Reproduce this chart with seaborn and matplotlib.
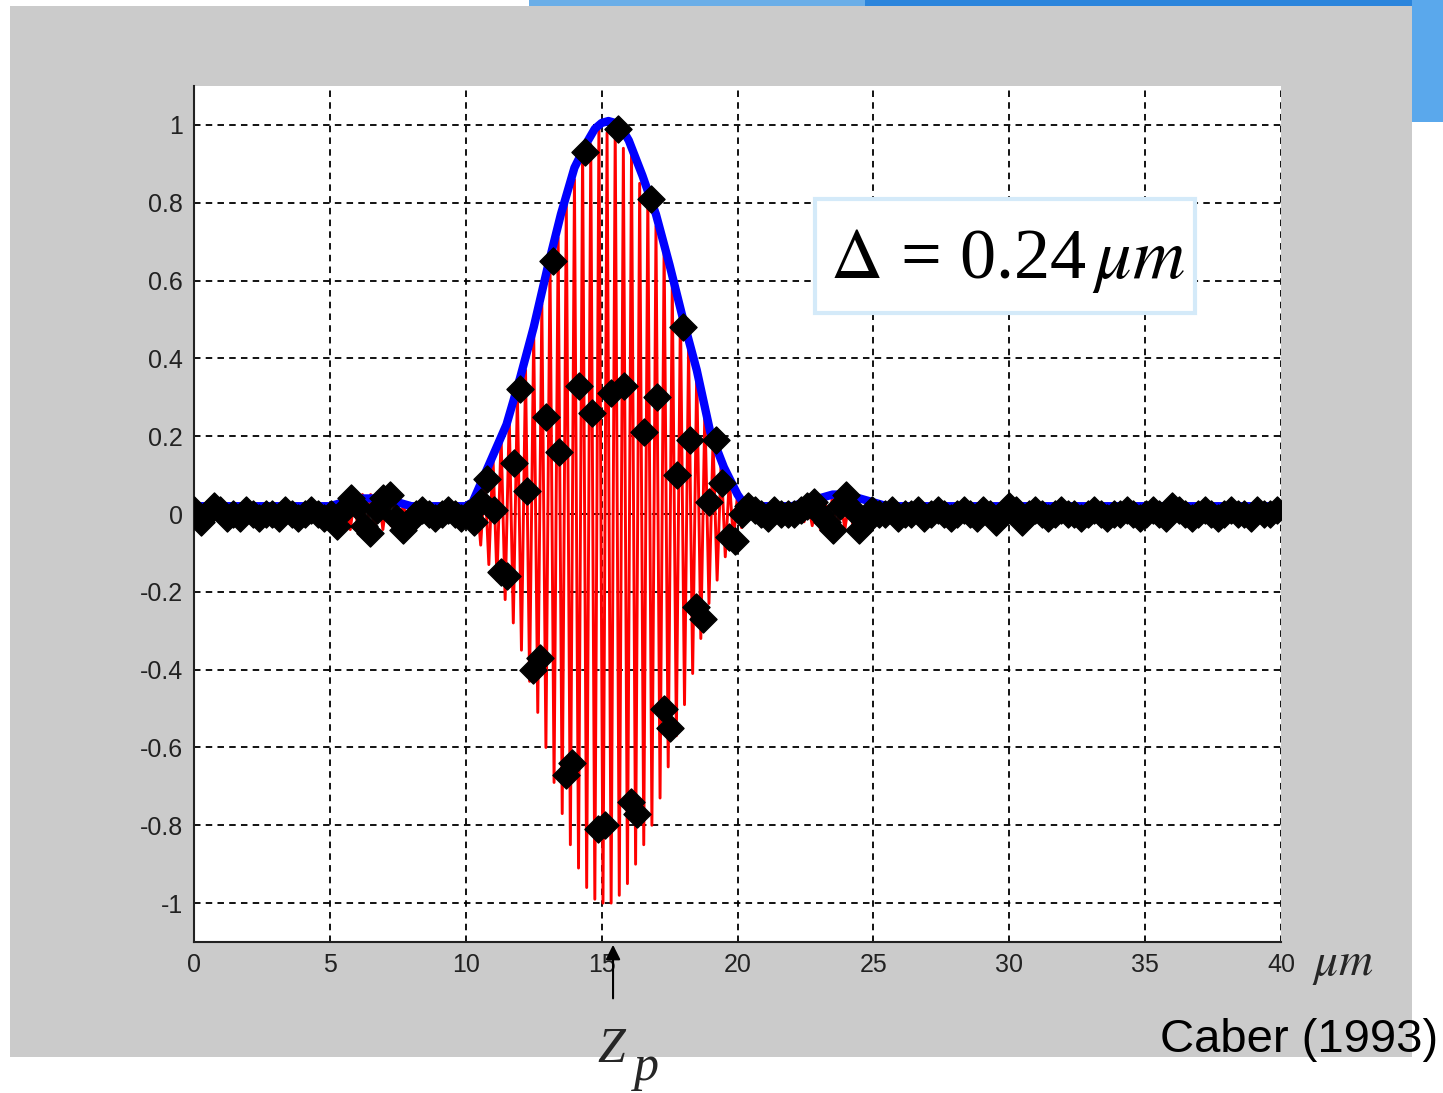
import numpy as np
import pandas as pd
import matplotlib
matplotlib.use("Agg")
import matplotlib.pyplot as plt
from matplotlib.patches import Rectangle
import seaborn as sns

# ---- data ----
delta = 0.24      # sampling step (um)
half_period = 0.15  # fringe half period (um)

# sampled intensity (black markers), one value every delta from x = 0
marker_y = [
    0.01, -0.02, 0.0, 0.02, 0.01, -0.01, 0.0, -0.01, 0.01, 0.0, -0.01, 0.0, 0.0,
    -0.01, 0.01, 0.0, -0.01, 0.0, 0.01, 0.0, -0.01,
    0.0, -0.03, 0.01, 0.04, 0.02, -0.03, -0.05, 0.01, 0.04, 0.05, -0.01, -0.04,
    -0.02, 0.0,
    0.01, 0.0, -0.01, 0.0, 0.01, 0.0, -0.01,
    0.0, -0.02, 0.03, 0.09, 0.01,
    -0.15, -0.16, 0.13, 0.32, 0.06,
    -0.40, -0.37, 0.25, 0.65, 0.16,
    -0.67, -0.64, 0.33, 0.93, 0.26,
    -0.81, -0.80, 0.31, 0.99, 0.33,
    -0.74, -0.77, 0.21, 0.81, 0.30,
    -0.50, -0.55, 0.10, 0.48, 0.19,
    -0.24, -0.27, 0.03, 0.19, 0.08,
    -0.06, -0.07, 0.00, 0.02, 0.01,
    0.0, -0.01, 0.01, 0.0, 0.0,
    0.0, 0.01, 0.02, 0.03, 0.0, -0.02, -0.04, 0.02, 0.05, 0.01, -0.04, -0.02,
    0.01, 0.0,
    0.0, 0.01, -0.01, 0.0, 0.0, 0.01, -0.01, 0.0, 0.01, 0.0,
    -0.01, 0.0, 0.01, 0.0, -0.01, 0.01, 0.0, -0.02, 0.0, 0.02,
    0.01, -0.02, 0.0, 0.01, 0.0, -0.01, 0.0, 0.01, 0.0, 0.0,
    -0.01, 0.0, 0.01, 0.0, -0.01, 0.0, 0.0, 0.01, 0.0, -0.01,
    0.0, 0.01, 0.0, -0.01, 0.02, 0.01, 0.0, -0.01, 0.0, 0.01,
    0.0, -0.01, 0.0, 0.01, 0.0, 0.0, -0.01, 0.01, 0.0, 0.0, 0.01,
]

# envelope (blue)
env_x = [0, 1, 2, 3, 4, 5, 5.5, 6, 6.5, 7, 7.5, 8, 9, 10, 10.25, 10.5,
         11, 11.5, 12, 12.5, 13, 13.5, 14, 14.5, 14.75, 15, 15.25, 15.5, 15.75,
         16, 16.5, 17, 17.5, 18, 18.5, 19, 19.5, 20, 20.3, 21, 22,
         22.5, 23, 23.5, 24, 24.5, 25, 25.5, 26, 28, 30, 32, 34, 36, 38, 40]
env_y = [0.02, 0.02, 0.02, 0.02, 0.02, 0.02, 0.03, 0.04, 0.04, 0.04, 0.03, 0.02,
         0.02, 0.02, 0.03, 0.07,
         0.15, 0.23, 0.35, 0.48, 0.63, 0.77, 0.89, 0.96, 0.99, 1.005, 1.01, 1.005, 0.99,
         0.96, 0.87, 0.77, 0.64, 0.50, 0.37, 0.21, 0.12, 0.05, 0.02, 0.02, 0.02,
         0.03, 0.04, 0.05, 0.05, 0.04, 0.03, 0.02, 0.02, 0.02, 0.02, 0.02, 0.02,
         0.02, 0.02, 0.02]

# interference fringe (red): peaks / troughs every half period
fringe_start = 10.10
fringe_y = [
    0.02, -0.03, 0.05, -0.08, 0.10, -0.13, 0.15, -0.17, 0.20, -0.22,
    0.25, -0.28, 0.31, -0.35, 0.37, -0.43, 0.47, -0.51, 0.54, -0.60,
    0.65, -0.69, 0.71, -0.77, 0.81, -0.85, 0.86, -0.91, 0.94, -0.96,
    0.95, -0.99, 1.00, -1.00, 0.98, -1.00, 0.99, -0.98, 0.94, -0.95,
    0.93, -0.90, 0.85, -0.85, 0.82, -0.80, 0.74, -0.73, 0.69, -0.65,
    0.59, -0.57, 0.53, -0.49, 0.43, -0.41, 0.37, -0.32, 0.27, -0.23,
    0.19, -0.17, 0.14, -0.11, 0.09, -0.07, 0.05, -0.035, 0.02,
]
lobe1_start = 5.0
lobe1_y = [0.01, -0.02, 0.02, -0.03, 0.03, -0.04, 0.04, -0.05, 0.05, -0.05, 0.05,
           -0.05, 0.05, -0.04, 0.04, -0.03, 0.03, -0.02, 0.02, -0.01, 0.01]
lobe2_start = 22.0
lobe2_y = [0.01, -0.01, 0.02, -0.02, 0.03, -0.03, 0.04, -0.04, 0.05, -0.05, 0.05,
           -0.05, 0.04, -0.04, 0.03, -0.03, 0.02, -0.02, 0.01, -0.01, 0.01]

x_ticks = [0, 5, 10, 15, 20, 25, 30, 35, 40]
y_ticks = [-1, -0.8, -0.6, -0.4, -0.2, 0, 0.2, 0.4, 0.6, 0.8, 1]
zp = 15.42

# ---- assemble series ----
red_x = np.concatenate([
    [0.0, 4.85],
    lobe1_start + half_period * np.arange(len(lobe1_y)),
    [8.15, 9.95],
    fringe_start + half_period * np.arange(len(fringe_y)),
    [20.45, 21.85],
    lobe2_start + half_period * np.arange(len(lobe2_y)),
    [25.15, 40.0],
])
red_y = np.concatenate([[0, 0], lobe1_y, [0, 0], fringe_y, [0, 0], lobe2_y, [0, 0]])
red_df = pd.DataFrame({"z": red_x, "I": red_y})
env_df = pd.DataFrame({"z": env_x, "I": env_y})
mk_df = pd.DataFrame({"z": np.arange(len(marker_y)) * delta, "I": marker_y})

# ---- style ----
sns.set_style("white")
plt.rcParams["font.family"] = ["Liberation Sans", "DejaVu Sans"]
plt.rcParams["axes.unicode_minus"] = False
plt.rcParams["mathtext.fontset"] = "stix"

W, H = 1443, 1093
fig = plt.figure(figsize=(W / 100, H / 100), dpi=100)
fig.patch.set_facecolor("white")

# slide background
fig.patches.append(Rectangle((10 / W, 1 - 1057 / H), 1402 / W, 1051 / H,
                             transform=fig.transFigure, fc="#cbcbcb", ec="none", zorder=-10))
fig.patches.append(Rectangle((529 / W, 1 - 6 / H), 336 / W, 6 / H,
                             transform=fig.transFigure, fc="#6aaee8", ec="none", zorder=-11))
fig.patches.append(Rectangle((865 / W, 1 - 6 / H), 578 / W, 6 / H,
                             transform=fig.transFigure, fc="#2b85dc", ec="none", zorder=-11))
fig.patches.append(Rectangle((1412 / W, 1 - 122 / H), 31 / W, 122 / H,
                             transform=fig.transFigure, fc="#5aa8ec", ec="none", zorder=-11))

ax = fig.add_axes([194 / W, 1 - 942 / H, 1087 / W, 856 / H])
ax.set_facecolor("white")

sns.lineplot(data=red_df, x="z", y="I", color="#ff0000", lw=2.1, sort=False,
             estimator=None, ax=ax, zorder=2)
sns.lineplot(data=env_df, x="z", y="I", color="#0000ff", lw=6, sort=False,
             estimator=None, ax=ax, zorder=3)
# black sample markers (diamond + square give the blobby MATLAB look)
sns.scatterplot(data=mk_df, x="z", y="I", marker="D", s=190, color="black",
                edgecolor="black", linewidth=1.0, ax=ax, zorder=4)
sns.scatterplot(data=mk_df, x="z", y="I", marker="s", s=85, color="black",
                edgecolor="black", linewidth=1.0, ax=ax, zorder=4)

ax.set_xlim(0, 40)
ax.set_ylim(-1.1, 1.1)
ax.set_xticks(x_ticks)
ax.set_yticks(y_ticks)
ax.set_xticklabels([str(t) for t in x_ticks])
ax.set_yticklabels(["%g" % t for t in y_ticks])
ax.set_xlabel("")
ax.set_ylabel("")
ax.grid(True, color="black", linestyle=(0, (3.6, 2.9)), lw=1.3)
ax.set_axisbelow(True)
for s in ["top", "right"]:
    ax.spines[s].set_visible(False)
for s in ["left", "bottom"]:
    ax.spines[s].set_color("#222222")
    ax.spines[s].set_linewidth(1.5)
ax.tick_params(direction="in", length=5, width=1, colors="#222222",
               labelsize=18, pad=8)

# box with sampling step
ax.add_patch(Rectangle((0.5713, 0.7348), 0.3496, 0.1332, transform=ax.transAxes,
                       fc="white", ec="#d4eaf9", lw=3, zorder=5))
ax.text(0.748, 0.7757, r"$\Delta$ = 0.24$\,\mu m$", transform=ax.transAxes,
        ha="center", va="baseline", fontsize=52, family="Liberation Serif",
        color="black", zorder=6)

# Zp arrow
ax.annotate("", xy=(zp, -1.1), xytext=(zp, -1.252),
            arrowprops=dict(arrowstyle="-|>", color="black", lw=1.5, mutation_scale=22),
            annotation_clip=False)
fig.text(597 / W, 1 - 1062 / H, "Z", fontsize=36, style="italic",
         family="Liberation Serif", ha="left", va="baseline")
fig.text(634 / W, 1 - 1080 / H, "p", fontsize=36, style="italic",
         family="Liberation Serif", ha="left", va="baseline")

fig.text(1312 / W, 1 - 975 / H, r"$\mu m$", fontsize=34, ha="left", va="baseline")
fig.text(1438 / W, 1 - 1040 / H, "Caber (1993)", fontsize=34, color="black",
         family="Liberation Sans", ha="right", va="center")

fig.savefig("out.png", dpi=100)
